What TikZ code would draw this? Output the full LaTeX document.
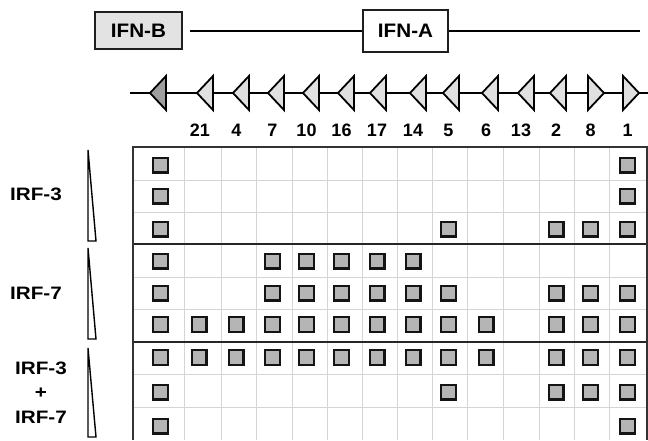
\documentclass[tikz,border=0pt]{standalone}
\usepackage{fontspec}
\usepackage{graphicx}
\setmainfont{Liberation Sans}
\begin{document}
\begin{tikzpicture}[x=1pt,y=-1pt,
  genebox/.style={draw=black!88, line width=1.8pt, inner sep=0pt,
    font=\fontsize{19.5}{22}\selectfont\bfseries},
  cell/.style={draw=black!92, line width=2.4pt, fill=black!29,
    minimum size=14.6pt, inner sep=0pt},
  gridline/.style={draw=black!17, line width=0.8pt},
  sepline/.style={draw=black!85, line width=2pt},
  frameline/.style={draw=black!80, line width=1.8pt},
  genearrow/.style={draw=black, line width=1.8pt, line join=miter, fill=black!12},
  genedark/.style={genearrow, fill=black!38},
  wedge/.style={draw=black, line width=1.4pt, fill=white, line join=miter},
  collabel/.style={font=\fontsize{18}{20}\selectfont\bfseries, inner sep=0pt, anchor=base},
  irflabel/.style={font=\fontsize{18}{20}\selectfont\bfseries, inner sep=0pt, anchor=base},
  mapline/.style={line width=1.4pt}]
\useasboundingbox (0,0) rectangle (648,440);

% ---- top: IFN-B and IFN-A loci
\node[genebox, fill=black!11, minimum width=87pt, minimum height=37pt] (ifnb) at (138.5,30.5) {\scalebox{1.06}[1]{IFN-B}};
\node[genebox, fill=white, minimum width=85pt, minimum height=42pt] (ifna) at (405.5,31) {\scalebox{1.06}[1]{IFN-A}};
\coordinate (topstart) at (190,31);
\coordinate (topend) at (640,31);
\draw[mapline] (topstart) -- (ifna.west);
\draw[mapline] (ifna.east) -- (topend);

% ---- gene map line
\coordinate (gl) at (130,93);
\coordinate (gr) at (648,93);
\draw[line width=1.6pt] (gl) -- (gr);
% first (dark) left-pointing arrow
\draw[genedark] (150,93) -- (166,76) -- (166,110) -- cycle;
% light left-pointing arrows
\foreach \m in {205,241,276,311,346,378,418,451,490,526,558}{
  \draw[genearrow] (\m-8,93) -- (\m+8,76) -- (\m+8,110) -- cycle;
}
% right-pointing arrows
\foreach \m in {596,631}{
  \draw[genearrow] (\m+8,93) -- (\m-8,76) -- (\m-8,110) -- cycle;
}

% ---- column labels
\foreach \x/\t [count=\i] in {200/21,236.5/4,272.5/7,306.5/10,341.5/16,377/17,413/14,448.5/5,486/6,521/13,556/2,590.5/8,627.5/1}{
  \node[collabel] (col\i) at (\x,136) {\t};
}

% ---- grid
\foreach \x in {184,221,256,292,327,362,397,432,467,503,539,574,609}{
  \draw[gridline] (\x,147) -- (\x,440);
}
\foreach \y in {180,212,277,309,374,407}{
  \draw[gridline] (133,\y) -- (647,\y);
}
\draw[sepline] (133,244) -- (647,244);
\draw[sepline] (133,342) -- (647,342);
\draw[frameline] (133,440) -- (133,147) -- (647,147) -- (647,440);

% ---- cells
\def\colx{{160.5,199,236,272.5,306.5,341.5,377,413,448.5,486,521,556,590.5,627.5}}
\def\rowy{{165,196,229,261,293,324.5,357.5,392,426}}
\foreach \r/\cols in {1/{1,14},2/{1,14},3/{1,9,12,13,14},
  4/{1,4,5,6,7,8},5/{1,4,5,6,7,8,9,12,13,14},
  6/{1,2,3,4,5,6,7,8,9,10,12,13,14},7/{1,2,3,4,5,6,7,8,9,10,12,13,14},
  8/{1,9,12,13,14},9/{1,14}}{
  \foreach \c in \cols{
    \pgfmathsetmacro{\cx}{\colx[\c-1]}
    \pgfmathsetmacro{\cy}{\rowy[\r-1]}
    \node[cell] (sq-\r-\c) at (\cx,\cy) {};
  }
}

% ---- concentration wedges
\draw[wedge] (88,150) -- (88,241) -- (96,241) -- cycle;
\draw[wedge] (88,248) -- (88,339) -- (96,339) -- cycle;
\draw[wedge] (88,348) -- (88,437) -- (96,437) -- cycle;

% ---- row group labels
\node[irflabel] (irf3) at (36,200) {\scalebox{1.15}[1]{IRF-3}};
\node[irflabel] (irf7) at (36,299) {\scalebox{1.15}[1]{IRF-7}};
\node[irflabel] (irf3b) at (41,374) {\scalebox{1.15}[1]{IRF-3}};
\node[irflabel] (plus) at (41,398) {\scalebox{1.15}[1]{+}};
\node[irflabel] (irf7b) at (41,423) {\scalebox{1.15}[1]{IRF-7}};
\end{tikzpicture}
\end{document}
